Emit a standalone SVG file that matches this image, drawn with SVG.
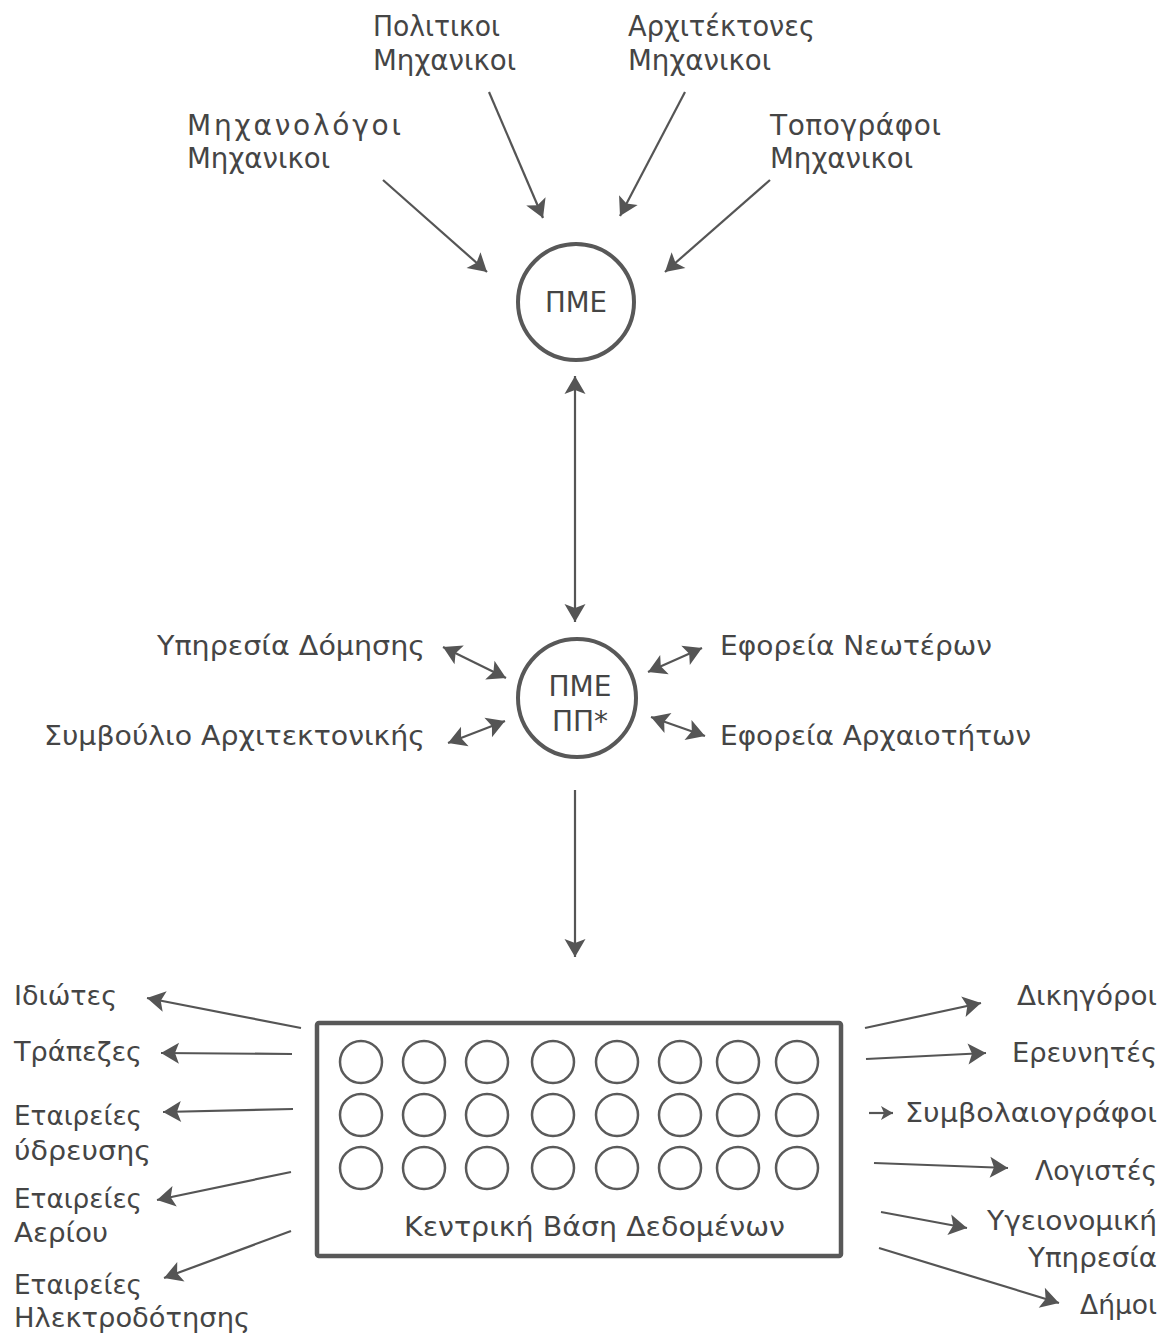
<svg xmlns="http://www.w3.org/2000/svg" width="1169" height="1336" viewBox="0 0 1169 1336">
  <defs>
    <style>
      .lbl { font-family: "DejaVu Sans", "Liberation Sans", sans-serif; fill: #454545; }
      .top { font-size: 28px; }
      .mid { font-size: 26px; }
      .hub { font-size: 28px; }
      .bot { font-size: 26px; }
      .ctr { text-anchor: middle; }
      .ring { fill: none; stroke: #585858; stroke-width: 4; }
      .cell { fill: none; stroke: #5a5a5a; stroke-width: 2.5; }
      .wire { fill: none; stroke: #555555; stroke-width: 2.2; }
      .one { marker-end: url(#head); }
      .two { marker-start: url(#headStart); marker-end: url(#head); }
      .tiny { marker-end: url(#headSmall); }
    </style>
    <marker id="head" viewBox="-20 -11 22 22" refX="0" refY="0" markerWidth="22" markerHeight="22" markerUnits="userSpaceOnUse" orient="auto">
      <path d="M0,0 L-18,-10.5 L-14,0 L-18,10.5 Z" fill="#555555"/>
    </marker>
    <marker id="headStart" viewBox="-20 -11 22 22" refX="0" refY="0" markerWidth="22" markerHeight="22" markerUnits="userSpaceOnUse" orient="auto-start-reverse">
      <path d="M0,0 L-18,-10.5 L-14,0 L-18,10.5 Z" fill="#555555"/>
    </marker>
    <marker id="headSmall" viewBox="-13 -7 14 14" refX="0" refY="0" markerWidth="14" markerHeight="14" markerUnits="userSpaceOnUse" orient="auto">
      <path d="M0,0 L-12,-7 L-9,0 L-12,7 Z" fill="#555555"/>
    </marker>
  </defs>

  <rect width="1169" height="1336" fill="#ffffff"/>

  <!-- connectors -->
  <g id="connectors">
    <!-- engineers into ΠΜΕ -->
    <line class="wire one" x1="383" y1="180" x2="487" y2="272"/>
    <line class="wire one" x1="489" y1="92" x2="543" y2="218"/>
    <line class="wire one" x1="685" y1="92" x2="620" y2="216"/>
    <line class="wire one" x1="770" y1="180" x2="665" y2="272"/>
    <!-- ΠΜΕ to ΠΜΕ ΠΠ* -->
    <line class="wire two" x1="575" y1="376" x2="575" y2="622"/>
    <!-- agencies around ΠΜΕ ΠΠ* -->
    <line class="wire two" x1="443" y1="647" x2="506" y2="678"/>
    <line class="wire two" x1="448" y1="743" x2="505" y2="721"/>
    <line class="wire two" x1="648" y1="672" x2="702" y2="648"/>
    <line class="wire two" x1="651" y1="717" x2="705" y2="736"/>
    <!-- down to the central database -->
    <line class="wire one" x1="575" y1="790" x2="575" y2="957"/>
    <!-- database out to the left -->
    <line class="wire one" x1="301" y1="1028" x2="147" y2="998"/>
    <line class="wire one" x1="292" y1="1054" x2="161" y2="1053"/>
    <line class="wire one" x1="293" y1="1109" x2="163" y2="1112"/>
    <line class="wire one" x1="291" y1="1172" x2="157" y2="1200"/>
    <line class="wire one" x1="291" y1="1231" x2="164" y2="1278"/>
    <!-- database out to the right -->
    <line class="wire one" x1="865" y1="1028" x2="981" y2="1003"/>
    <line class="wire one" x1="866" y1="1059" x2="986" y2="1053"/>
    <line class="wire tiny" x1="869" y1="1113" x2="893" y2="1113"/>
    <line class="wire one" x1="874" y1="1163" x2="1008" y2="1168"/>
    <line class="wire one" x1="881" y1="1212" x2="967" y2="1228"/>
    <line class="wire one" x1="879" y1="1248" x2="1059" y2="1303"/>
  </g>

  <!-- engineer groups -->
  <g id="mechanical">
    <text class="lbl top" x="187" y="135" textLength="214" lengthAdjust="spacing">Μηχανολόγοι</text>
    <text class="lbl top" x="187" y="168" textLength="143" lengthAdjust="spacingAndGlyphs">Μηχανικοι</text>
  </g>
  <g id="civil">
    <text class="lbl top" x="373" y="36" textLength="127" lengthAdjust="spacingAndGlyphs">Πολιτικοι</text>
    <text class="lbl top" x="373" y="70" textLength="143" lengthAdjust="spacingAndGlyphs">Μηχανικοι</text>
  </g>
  <g id="architects">
    <text class="lbl top" x="628" y="36" textLength="187" lengthAdjust="spacingAndGlyphs">Αρχιτέκτονες</text>
    <text class="lbl top" x="628" y="70" textLength="143" lengthAdjust="spacingAndGlyphs">Μηχανικοι</text>
  </g>
  <g id="surveyors">
    <text class="lbl top" x="770" y="135" textLength="171" lengthAdjust="spacing">Τοπογράφοι</text>
    <text class="lbl top" x="770" y="168" textLength="143" lengthAdjust="spacingAndGlyphs">Μηχανικοι</text>
  </g>

  <!-- ΠΜΕ -->
  <g id="pme">
    <circle class="ring" cx="576" cy="302" r="58"/>
    <text class="lbl hub ctr" x="576" y="312" textLength="62" lengthAdjust="spacingAndGlyphs">ΠΜΕ</text>
  </g>

  <!-- ΠΜΕ ΠΠ* -->
  <g id="pme-pp">
    <circle class="ring" cx="577" cy="698" r="59"/>
    <text class="lbl hub ctr" x="580" y="696" textLength="63" lengthAdjust="spacingAndGlyphs">ΠΜΕ</text>
    <text class="lbl hub ctr" x="580" y="731">ΠΠ*</text>
  </g>

  <!-- agencies -->
  <g id="building-service">
    <text class="lbl mid" x="157" y="655" textLength="268" lengthAdjust="spacingAndGlyphs">Υπηρεσία Δόμησης</text>
  </g>
  <g id="architecture-council">
    <text class="lbl mid" x="44" y="745" textLength="381" lengthAdjust="spacingAndGlyphs">Συμβούλιο Αρχιτεκτονικής</text>
  </g>
  <g id="modern-monuments">
    <text class="lbl mid" x="720" y="655" textLength="272" lengthAdjust="spacingAndGlyphs">Εφορεία Νεωτέρων</text>
  </g>
  <g id="antiquities">
    <text class="lbl mid" x="720" y="745" textLength="311" lengthAdjust="spacingAndGlyphs">Εφορεία Αρχαιοτήτων</text>
  </g>

  <!-- central database -->
  <g id="central-db">
    <rect x="317" y="1023" width="524" height="233" fill="none" stroke="#585858" stroke-width="4.5" rx="2"/>
    <g id="db-cells">
      <circle class="cell" cx="361" cy="1062" r="21"/>
      <circle class="cell" cx="424" cy="1062" r="21"/>
      <circle class="cell" cx="487" cy="1062" r="21"/>
      <circle class="cell" cx="553" cy="1062" r="21"/>
      <circle class="cell" cx="617" cy="1062" r="21"/>
      <circle class="cell" cx="680" cy="1062" r="21"/>
      <circle class="cell" cx="738" cy="1062" r="21"/>
      <circle class="cell" cx="797" cy="1062" r="21"/>
      <circle class="cell" cx="361" cy="1115" r="21"/>
      <circle class="cell" cx="424" cy="1115" r="21"/>
      <circle class="cell" cx="487" cy="1115" r="21"/>
      <circle class="cell" cx="553" cy="1115" r="21"/>
      <circle class="cell" cx="617" cy="1115" r="21"/>
      <circle class="cell" cx="680" cy="1115" r="21"/>
      <circle class="cell" cx="738" cy="1115" r="21"/>
      <circle class="cell" cx="797" cy="1115" r="21"/>
      <circle class="cell" cx="361" cy="1168" r="21"/>
      <circle class="cell" cx="424" cy="1168" r="21"/>
      <circle class="cell" cx="487" cy="1168" r="21"/>
      <circle class="cell" cx="553" cy="1168" r="21"/>
      <circle class="cell" cx="617" cy="1168" r="21"/>
      <circle class="cell" cx="680" cy="1168" r="21"/>
      <circle class="cell" cx="738" cy="1168" r="21"/>
      <circle class="cell" cx="797" cy="1168" r="21"/>
    </g>
    <text class="lbl bot" x="404" y="1236" textLength="381" lengthAdjust="spacingAndGlyphs">Κεντρική Βάση Δεδομένων</text>
  </g>

  <!-- data consumers, left -->
  <g id="individuals">
    <text class="lbl bot" x="14" y="1005" textLength="103" lengthAdjust="spacingAndGlyphs">Ιδιώτες</text>
  </g>
  <g id="banks">
    <text class="lbl bot" x="14" y="1061" textLength="128" lengthAdjust="spacingAndGlyphs">Τράπεζες</text>
  </g>
  <g id="water-companies">
    <text class="lbl bot" x="14" y="1125" textLength="128" lengthAdjust="spacingAndGlyphs">Εταιρείες</text>
    <text class="lbl bot" x="14" y="1160" textLength="137" lengthAdjust="spacingAndGlyphs">ύδρευσης</text>
  </g>
  <g id="gas-companies">
    <text class="lbl bot" x="14" y="1208" textLength="128" lengthAdjust="spacingAndGlyphs">Εταιρείες</text>
    <text class="lbl bot" x="14" y="1242" textLength="94" lengthAdjust="spacingAndGlyphs">Αερίου</text>
  </g>
  <g id="power-companies">
    <text class="lbl bot" x="14" y="1294" textLength="128" lengthAdjust="spacingAndGlyphs">Εταιρείες</text>
    <text class="lbl bot" x="14" y="1327" textLength="236" lengthAdjust="spacingAndGlyphs">Ηλεκτροδότησης</text>
  </g>

  <!-- data consumers, right -->
  <g id="lawyers">
    <text class="lbl bot" x="1017" y="1005" textLength="140" lengthAdjust="spacingAndGlyphs">Δικηγόροι</text>
  </g>
  <g id="researchers">
    <text class="lbl bot" x="1012" y="1062" textLength="145" lengthAdjust="spacingAndGlyphs">Ερευνητές</text>
  </g>
  <g id="notaries">
    <text class="lbl bot" x="905" y="1122" textLength="252" lengthAdjust="spacingAndGlyphs">Συμβολαιογράφοι</text>
  </g>
  <g id="accountants">
    <text class="lbl bot" x="1035" y="1180" textLength="122" lengthAdjust="spacingAndGlyphs">Λογιστές</text>
  </g>
  <g id="health-service">
    <text class="lbl bot" x="987" y="1230" textLength="170" lengthAdjust="spacingAndGlyphs">Υγειονομική</text>
    <text class="lbl bot" x="1028" y="1267" textLength="129" lengthAdjust="spacingAndGlyphs">Υπηρεσία</text>
  </g>
  <g id="municipalities">
    <text class="lbl bot" x="1080" y="1314" textLength="77" lengthAdjust="spacingAndGlyphs">Δήμοι</text>
  </g>
</svg>
